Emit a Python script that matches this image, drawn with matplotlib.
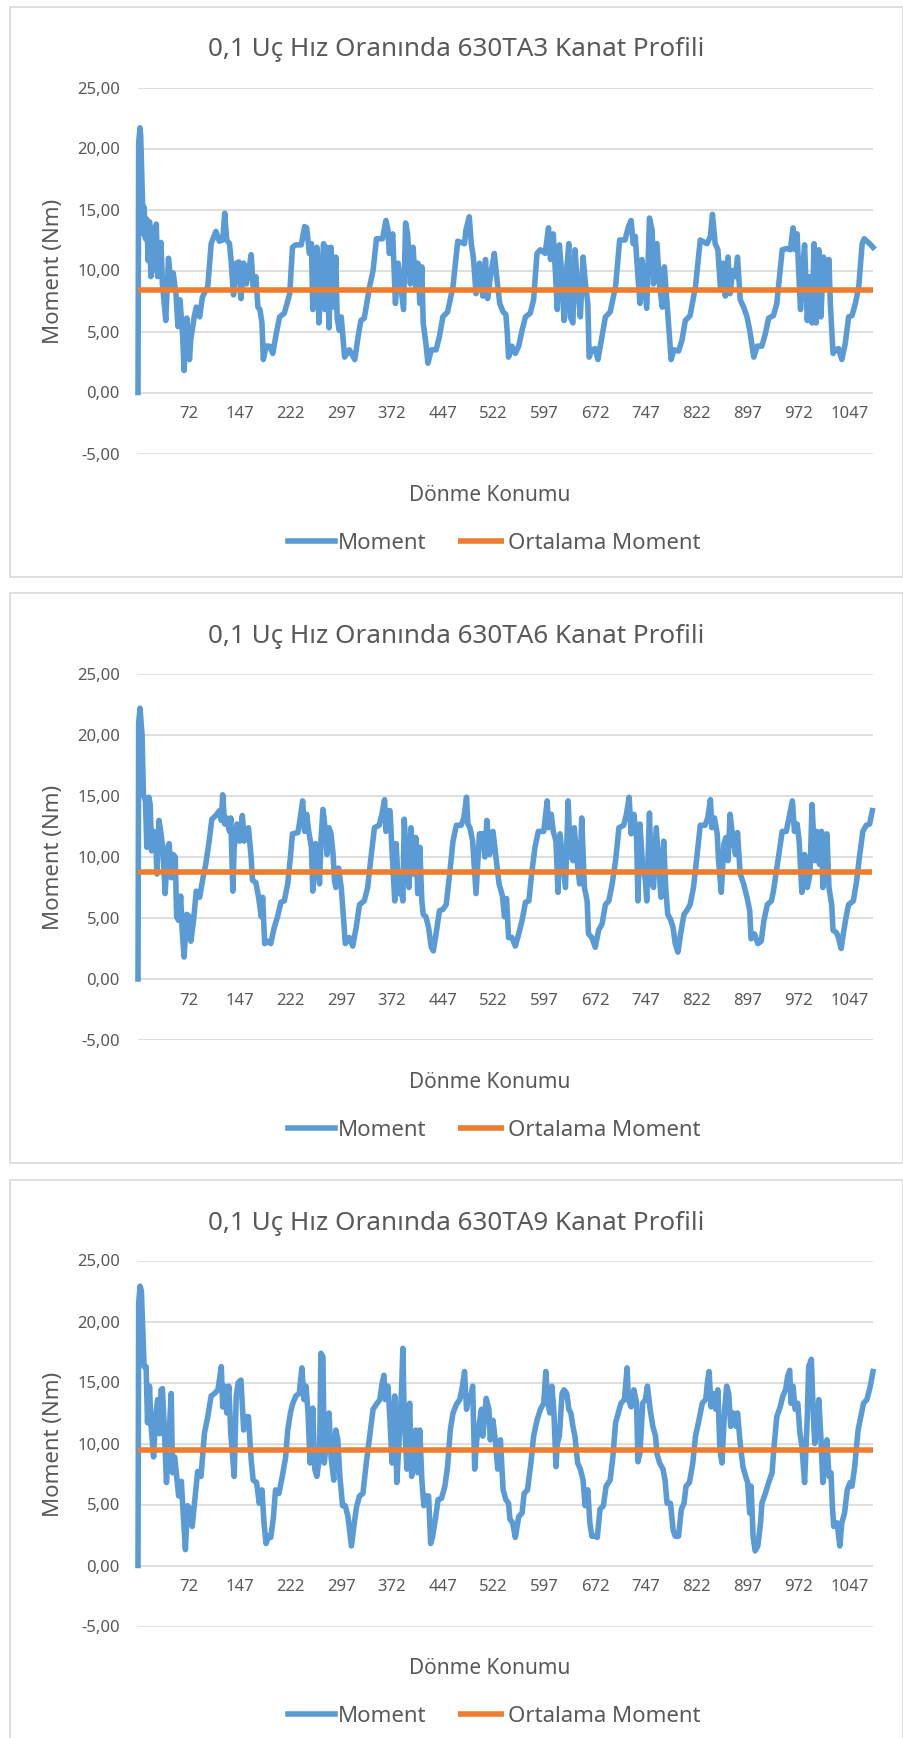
#!/usr/bin/env python3

import matplotlib

matplotlib.use("Agg")
import matplotlib.pyplot as plt
from matplotlib.patches import Rectangle
from matplotlib.ticker import FuncFormatter, FixedLocator

plt.rcParams["font.family"] = ["Noto Sans", "DejaVu Sans"]

W, H = 904, 1738
BLUE = "#5b9bd5"
ORANGE = "#ed7d31"
GRID = "#d9d9d9"
TEXT = "#595959"

TITLES = [
    "0,1 Uç Hız Oranında 630TA3 Kanat Profili",
    "0,1 Uç Hız Oranında 630TA6 Kanat Profili",
    "0,1 Uç Hız Oranında 630TA9 Kanat Profili",
]
X_TICKS = [72, 147, 222, 297, 372, 447, 522, 597, 672, 747, 822, 897, 972, 1047]
Y_TICKS = [-5, 0, 5, 10, 15, 20, 25]

# ortalama moment (Nm)
MEAN_MOMENT = [8.42, 8.81, 9.45]

# 630TA3 - values
TA3_KONUM = [-3, -2, 0, 1, 3, 5, 6, 8, 10, 12, 14, 16, 18, 20, 24, 26, 31, 33, 38, 42, 46, 49, 53, 56, 59, 63, 65, 69, 73, 75, 80, 83, 88, 92, 100, 105, 112, 117, 122, 125, 128, 132, 134, 138, 142, 146, 149, 153, 157, 160, 164, 167, 171, 174, 177, 180, 182, 186, 191, 196, 201, 206, 213, 221, 225, 230, 238, 243, 246, 250, 253, 255, 258, 261, 264, 267, 271, 273, 276, 279, 282, 286, 289, 291, 294, 297, 302, 309, 317, 322, 326, 331, 339, 344, 349, 358, 363, 366, 368, 373, 377, 381, 385, 389, 392, 395, 399, 403, 407, 410, 413, 416, 418, 422, 425, 430, 437, 442, 447, 454, 462, 469, 479, 481, 486, 489, 492, 496, 501, 506, 510, 513, 518, 523, 527, 531, 536, 540, 542, 544, 549, 554, 559, 564, 569, 576, 581, 586, 591, 598, 603, 606, 610, 613, 616, 619, 623, 626, 629, 633, 635, 639, 642, 646, 650, 654, 657, 661, 663, 667, 672, 676, 682, 687, 694, 702, 708, 716, 721, 725, 728, 731, 735, 738, 741, 744, 748, 752, 756, 758, 763, 767, 771, 774, 778, 780, 784, 788, 795, 800, 805, 812, 820, 827, 837, 842, 845, 849, 853, 857, 861, 864, 868, 871, 875, 879, 882, 886, 891, 896, 900, 903, 906, 911, 918, 923, 928, 935, 940, 948, 955, 960, 964, 967, 970, 972, 975, 978, 981, 985, 989, 992, 995, 998, 1002, 1005, 1009, 1013, 1017, 1019, 1023, 1027, 1031, 1036, 1041, 1046, 1051, 1056, 1061, 1066, 1069, 1073, 1077, 1082]
TA3_MOMENT = [0.0, 20.5, 21.7, 21.0, 17.0, 13.0, 15.2, 12.6, 14.2, 10.8, 14.0, 9.5, 13.5, 10.0, 13.8, 9.5, 12.3, 8.9, 5.9, 11.0, 8.7, 9.8, 8.1, 5.4, 7.6, 4.6, 1.8, 6.1, 2.7, 4.4, 6.2, 7.0, 6.2, 7.8, 8.7, 12.2, 13.2, 12.4, 12.5, 14.7, 12.5, 12.2, 11.1, 8.0, 10.6, 10.7, 7.7, 10.6, 8.9, 9.8, 11.3, 8.7, 9.5, 7.0, 6.8, 5.7, 2.7, 3.8, 3.8, 3.2, 4.8, 6.2, 6.5, 8.1, 11.9, 12.1, 12.1, 13.6, 13.5, 11.4, 12.2, 6.8, 8.7, 11.9, 5.7, 8.9, 12.2, 6.8, 11.9, 5.3, 11.9, 7.0, 11.1, 6.1, 5.1, 6.2, 2.9, 3.5, 2.7, 4.6, 5.9, 6.1, 8.7, 10.0, 12.6, 12.6, 14.1, 13.3, 11.4, 13.0, 7.3, 10.6, 8.7, 6.8, 13.9, 13.0, 8.9, 11.9, 8.7, 10.6, 7.3, 10.3, 5.7, 4.0, 2.4, 3.5, 3.5, 4.6, 6.2, 6.6, 8.7, 12.4, 12.2, 13.3, 14.4, 12.2, 11.1, 8.1, 10.6, 7.9, 10.9, 7.7, 9.8, 11.4, 9.2, 7.3, 6.6, 6.4, 5.0, 2.9, 3.8, 3.2, 3.8, 5.1, 6.2, 6.5, 7.6, 11.4, 11.7, 11.4, 13.5, 10.9, 13.0, 10.0, 6.8, 12.1, 9.5, 5.9, 9.5, 12.2, 6.2, 5.7, 11.7, 8.7, 6.2, 11.1, 9.2, 7.3, 2.9, 3.5, 3.6, 2.7, 4.6, 6.2, 6.6, 8.7, 12.5, 12.5, 13.6, 14.1, 12.2, 12.8, 9.5, 7.3, 10.9, 9.2, 6.9, 14.3, 13.3, 8.9, 12.2, 8.7, 7.0, 10.3, 7.3, 5.7, 2.7, 3.5, 3.4, 4.3, 5.9, 6.3, 8.7, 12.5, 12.2, 12.8, 14.6, 12.2, 11.7, 8.4, 10.6, 7.9, 11.1, 8.1, 10.0, 9.5, 11.1, 7.6, 7.0, 6.2, 5.1, 4.0, 2.9, 3.8, 3.8, 4.8, 6.1, 6.3, 7.3, 11.7, 11.8, 11.7, 13.5, 11.7, 13.0, 10.3, 6.8, 10.0, 12.1, 5.9, 9.5, 5.7, 12.2, 5.7, 11.7, 6.2, 11.1, 8.7, 10.9, 7.3, 3.2, 3.5, 3.6, 2.7, 4.0, 6.2, 6.3, 7.3, 8.7, 12.2, 12.6, 12.4, 12.2, 11.9]

# 630TA6
TA6_KONUM = [-3, -2, 0, 3, 5, 8, 10, 13, 15, 17, 20, 23, 25, 28, 31, 34, 37, 41, 43, 46, 49, 52, 54, 57, 60, 62, 65, 69, 73, 75, 79, 83, 88, 93, 97, 102, 106, 112, 117, 120, 122, 125, 128, 132, 134, 137, 139, 143, 147, 151, 154, 157, 160, 164, 166, 171, 175, 179, 181, 184, 189, 193, 198, 203, 208, 213, 218, 222, 225, 233, 236, 240, 243, 246, 249, 253, 255, 259, 262, 265, 267, 270, 272, 276, 279, 282, 285, 287, 289, 293, 297, 300, 303, 309, 314, 319, 324, 331, 336, 341, 346, 353, 357, 361, 363, 366, 369, 372, 376, 378, 382, 385, 388, 390, 394, 397, 400, 404, 407, 410, 413, 416, 418, 422, 426, 430, 433, 437, 442, 447, 452, 457, 462, 467, 474, 478, 482, 484, 487, 491, 496, 501, 506, 509, 512, 516, 521, 525, 530, 535, 538, 541, 544, 549, 554, 559, 564, 569, 574, 578, 583, 588, 596, 601, 603, 607, 610, 614, 617, 620, 624, 628, 632, 635, 639, 641, 645, 649, 652, 656, 660, 662, 667, 672, 677, 682, 687, 692, 697, 702, 707, 714, 718, 722, 725, 729, 733, 735, 738, 742, 746, 748, 752, 755, 758, 762, 766, 769, 773, 776, 779, 783, 787, 790, 794, 798, 803, 807, 812, 817, 822, 827, 834, 838, 842, 844, 848, 852, 854, 858, 862, 865, 868, 871, 875, 879, 882, 886, 891, 896, 900, 902, 907, 912, 917, 921, 926, 932, 935, 940, 948, 954, 959, 963, 966, 970, 973, 977, 981, 985, 989, 992, 996, 999, 1003, 1006, 1008, 1012, 1014, 1017, 1021, 1023, 1028, 1031, 1035, 1039, 1043, 1046, 1053, 1058, 1062, 1067, 1072, 1077, 1081]
TA6_MOMENT = [0.0, 21.0, 22.2, 20.0, 15.1, 14.6, 10.8, 14.9, 14.3, 10.5, 12.1, 11.3, 8.6, 13.0, 11.9, 10.5, 7.0, 10.8, 11.1, 8.3, 10.2, 10.0, 5.1, 4.8, 6.8, 4.2, 1.8, 5.3, 5.1, 3.1, 4.8, 7.2, 6.7, 8.3, 9.4, 11.3, 13.1, 13.4, 13.8, 13.0, 15.1, 12.7, 13.2, 12.1, 13.2, 7.2, 10.8, 12.7, 11.3, 13.4, 11.3, 11.9, 12.4, 10.0, 8.1, 7.9, 6.7, 5.1, 6.7, 2.9, 3.1, 2.9, 4.2, 5.1, 6.3, 6.4, 7.8, 10.0, 11.9, 12.0, 13.0, 14.6, 12.1, 13.5, 12.1, 10.8, 7.2, 11.1, 9.7, 7.8, 11.3, 13.9, 13.0, 10.2, 12.4, 11.9, 10.2, 8.1, 7.5, 9.1, 7.5, 5.3, 2.9, 3.4, 2.7, 4.2, 6.1, 6.4, 7.5, 10.0, 12.4, 12.6, 13.5, 14.7, 12.1, 13.8, 13.8, 10.5, 6.4, 11.1, 7.0, 7.5, 6.4, 13.1, 9.4, 7.5, 12.4, 8.6, 11.6, 7.0, 10.8, 6.4, 5.3, 5.1, 4.2, 2.6, 2.3, 3.7, 5.6, 5.7, 6.1, 8.6, 11.3, 12.6, 12.6, 13.2, 14.9, 12.7, 12.4, 11.3, 7.0, 11.9, 11.9, 10.0, 13.0, 10.2, 12.1, 10.2, 7.8, 6.8, 5.1, 6.6, 3.4, 3.4, 2.7, 3.7, 4.8, 6.3, 6.4, 8.6, 10.8, 12.1, 12.1, 14.6, 12.4, 13.5, 12.1, 11.3, 7.1, 11.9, 9.7, 7.5, 14.6, 10.2, 9.7, 12.4, 9.7, 7.8, 13.2, 7.5, 6.4, 3.7, 3.4, 2.6, 4.0, 4.5, 6.1, 6.4, 7.8, 9.7, 12.4, 12.6, 13.5, 14.9, 11.9, 13.5, 11.6, 6.4, 12.7, 9.1, 8.1, 6.4, 13.6, 8.1, 7.5, 12.4, 9.1, 6.7, 11.3, 7.5, 5.3, 4.9, 4.2, 2.9, 2.2, 3.7, 5.3, 5.6, 6.1, 7.5, 10.0, 12.6, 12.6, 13.2, 14.7, 12.4, 13.2, 11.9, 9.7, 7.1, 11.1, 11.6, 9.7, 13.5, 11.6, 10.2, 12.0, 8.6, 7.8, 6.7, 5.6, 3.3, 3.7, 2.9, 3.1, 4.8, 6.1, 6.4, 7.2, 9.1, 12.1, 12.1, 13.5, 14.6, 12.1, 12.7, 11.3, 7.1, 10.2, 7.5, 8.6, 14.3, 9.7, 12.1, 9.4, 12.1, 7.5, 10.0, 11.9, 7.5, 6.1, 4.0, 3.8, 3.4, 2.5, 4.0, 5.3, 6.1, 6.4, 8.1, 10.0, 12.1, 12.6, 12.7, 13.8]

# 630TA9
TA9_KONUM = [-3, -2, 0, 2, 4, 6, 9, 11, 14, 16, 20, 23, 26, 29, 31, 33, 36, 39, 42, 46, 48, 51, 53, 57, 61, 64, 67, 70, 74, 77, 80, 85, 90, 95, 100, 105, 110, 115, 120, 122, 125, 128, 131, 134, 139, 142, 145, 149, 153, 156, 160, 164, 167, 172, 176, 180, 183, 186, 190, 193, 197, 200, 205, 210, 215, 218, 222, 225, 230, 235, 239, 242, 245, 248, 251, 255, 258, 261, 265, 267, 270, 272, 276, 279, 282, 286, 289, 292, 295, 299, 303, 307, 312, 317, 320, 324, 329, 334, 339, 344, 350, 354, 357, 360, 362, 366, 369, 372, 376, 379, 382, 386, 388, 390, 394, 398, 401, 404, 407, 410, 413, 416, 419, 422, 426, 429, 432, 436, 440, 445, 450, 454, 458, 462, 467, 472, 476, 479, 482, 485, 488, 491, 494, 497, 501, 504, 506, 511, 515, 517, 521, 525, 528, 532, 536, 540, 544, 546, 550, 554, 559, 564, 567, 572, 577, 581, 586, 591, 596, 599, 602, 605, 608, 611, 614, 616, 619, 623, 626, 630, 633, 636, 639, 642, 646, 650, 654, 657, 661, 664, 667, 672, 675, 679, 684, 688, 694, 698, 702, 706, 710, 715, 719, 721, 725, 729, 733, 735, 738, 742, 746, 749, 753, 757, 761, 763, 767, 772, 775, 778, 783, 787, 790, 795, 799, 803, 806, 811, 816, 820, 825, 830, 835, 838, 840, 843, 847, 850, 853, 856, 859, 863, 866, 869, 872, 876, 880, 882, 886, 890, 894, 897, 900, 902, 905, 908, 912, 916, 918, 923, 928, 933, 936, 940, 945, 949, 953, 956, 959, 961, 964, 967, 971, 974, 977, 981, 985, 987, 991, 994, 996, 1000, 1002, 1005, 1008, 1012, 1014, 1017, 1020, 1022, 1024, 1029, 1033, 1036, 1040, 1044, 1048, 1051, 1055, 1060, 1064, 1068, 1073, 1078, 1082]
TA9_MOMENT = [0.0, 21.5, 22.9, 22.5, 19.3, 16.3, 16.3, 11.7, 14.7, 11.7, 8.9, 12.2, 13.6, 10.8, 14.4, 14.5, 11.1, 6.8, 9.8, 14.1, 7.6, 8.9, 7.9, 5.7, 6.9, 4.0, 1.3, 4.9, 4.6, 3.2, 4.9, 7.7, 7.3, 10.8, 12.2, 13.9, 14.1, 14.4, 16.3, 13.0, 14.7, 12.5, 14.7, 10.8, 7.3, 13.9, 15.0, 15.2, 11.1, 12.2, 12.2, 8.7, 7.0, 6.8, 5.1, 6.2, 3.5, 1.8, 2.4, 2.3, 4.0, 6.2, 5.9, 7.3, 8.9, 11.1, 12.5, 13.2, 13.9, 14.1, 16.2, 13.6, 14.7, 12.5, 8.4, 12.9, 7.9, 7.3, 8.9, 17.4, 17.1, 8.4, 10.6, 12.5, 8.9, 7.0, 11.1, 10.3, 7.3, 4.9, 4.9, 4.0, 1.6, 3.8, 4.9, 5.7, 5.9, 8.4, 10.6, 12.8, 13.3, 13.6, 14.8, 15.6, 13.6, 14.7, 11.9, 8.4, 13.9, 6.8, 9.8, 14.4, 17.8, 12.2, 7.9, 13.3, 7.3, 10.6, 11.1, 7.6, 11.1, 7.0, 4.9, 5.7, 5.7, 1.8, 2.4, 3.8, 5.4, 5.5, 6.5, 8.1, 11.1, 12.5, 13.2, 13.6, 14.7, 15.9, 12.8, 13.9, 13.6, 14.7, 7.9, 10.3, 11.7, 12.8, 10.6, 13.7, 12.8, 10.3, 11.9, 10.0, 7.9, 10.3, 6.2, 5.4, 5.1, 3.8, 3.5, 2.3, 4.0, 4.3, 5.9, 6.2, 8.4, 10.6, 11.9, 12.8, 13.3, 15.9, 13.3, 12.5, 14.7, 12.5, 8.1, 10.0, 10.6, 14.1, 14.4, 14.1, 12.8, 12.5, 11.4, 10.6, 8.4, 7.9, 7.0, 4.9, 6.2, 3.5, 2.4, 2.4, 2.3, 4.6, 4.9, 6.5, 7.0, 8.9, 11.7, 12.5, 13.3, 13.6, 16.2, 13.6, 13.0, 14.4, 13.3, 8.5, 9.2, 13.3, 13.6, 14.7, 12.8, 11.4, 10.6, 9.2, 8.4, 7.9, 7.0, 5.1, 5.1, 2.9, 2.4, 2.4, 4.6, 5.1, 6.5, 6.8, 8.4, 10.6, 11.9, 13.3, 13.6, 15.2, 15.9, 13.0, 14.1, 12.8, 14.4, 9.5, 8.4, 12.8, 14.7, 14.1, 11.4, 12.5, 11.4, 12.5, 10.0, 8.1, 7.3, 6.8, 4.3, 6.5, 2.4, 1.2, 1.6, 3.5, 5.1, 5.9, 6.8, 7.6, 9.8, 12.2, 13.0, 13.9, 14.4, 15.5, 16.0, 13.3, 14.7, 12.8, 13.3, 10.9, 9.8, 6.8, 12.2, 16.3, 16.9, 12.2, 10.0, 11.7, 13.6, 10.6, 6.8, 9.8, 10.3, 7.3, 7.6, 4.9, 3.2, 3.5, 1.6, 3.5, 4.3, 6.2, 6.8, 6.5, 8.1, 11.1, 12.2, 13.3, 13.6, 14.7, 15.9]

PANEL_TOPS = [6.5, 593, 1179.5]


def fig_box(left, top, width, height):
    return [left / W, 1 - (top + height) / H, width / W, height / H]


def fig_xy(x, y):
    return x / W, 1 - y / H


def draw_panel(fig, top, title, konum, moment, mean):
    fig.patches.append(Rectangle(fig_xy(10, top + 570), 893 / W, 570 / H,
                                 transform=fig.transFigure, fill=False,
                                 edgecolor=GRID, linewidth=1.2))

    ax = fig.add_axes(fig_box(138, top + 81, 735, 366))
    ax.plot(konum, moment, color=BLUE, lw=4.0, solid_joinstyle="round",
            clip_on=False, zorder=3, label="Moment")
    ax.plot([konum[0], konum[-1]], [mean, mean], color=ORANGE, lw=4.0,
            solid_capstyle="butt", zorder=4, label="Ortalama Moment")

    ax.set_xlim(-3, 1082)
    ax.set_ylim(-5, 25)
    ax.yaxis.set_major_locator(FixedLocator(Y_TICKS))
    ax.yaxis.set_major_formatter(FuncFormatter(lambda v, _: f"{v:.2f}".replace(".", ",")))
    ax.xaxis.set_major_locator(FixedLocator(X_TICKS))

    ax.set_axisbelow(True)
    ax.yaxis.grid(True, color=GRID, lw=1.2)
    for side in ("left", "right", "top"):
        ax.spines[side].set_visible(False)
    ax.spines["bottom"].set_position(("data", 0))
    ax.spines["bottom"].set_visible(False)
    ax.tick_params(axis="y", length=0, pad=13, labelsize=12, labelcolor=TEXT)
    ax.tick_params(axis="x", length=0, pad=10, labelsize=12, labelcolor=TEXT)

    fig.text(*fig_xy(456.5, top + 43.5), title, ha="center", va="center",
             fontsize=18.8, color=TEXT)
    fig.text(*fig_xy(54, top + 264.5), "Moment (Nm)", rotation=90,
             ha="center", va="center", fontsize=16, color=TEXT)
    fig.text(*fig_xy(490, top + 489), "Dönme Konumu", ha="center",
             va="center", fontsize=15, color=TEXT)

    ax.legend(loc="center", bbox_to_anchor=fig_xy(494, top + 537),
              bbox_transform=fig.transFigure, ncol=2, frameon=False,
              handlelength=2.1, handletextpad=0.15, columnspacing=1.4,
              fontsize=16, labelcolor=TEXT, borderaxespad=0, borderpad=0)


def main():
    fig = plt.figure(figsize=(W / 100, H / 100), dpi=100, facecolor="white")
    series = [
        (TA3_KONUM, TA3_MOMENT),
        (TA6_KONUM, TA6_MOMENT),
        (TA9_KONUM, TA9_MOMENT),
    ]
    for top, title, (konum, moment), mean in zip(PANEL_TOPS, TITLES, series, MEAN_MOMENT):
        draw_panel(fig, top, title, konum, moment, mean)
    fig.savefig("out.png", dpi=100, facecolor="white")
    plt.close(fig)


if __name__ == "__main__":
    main()
